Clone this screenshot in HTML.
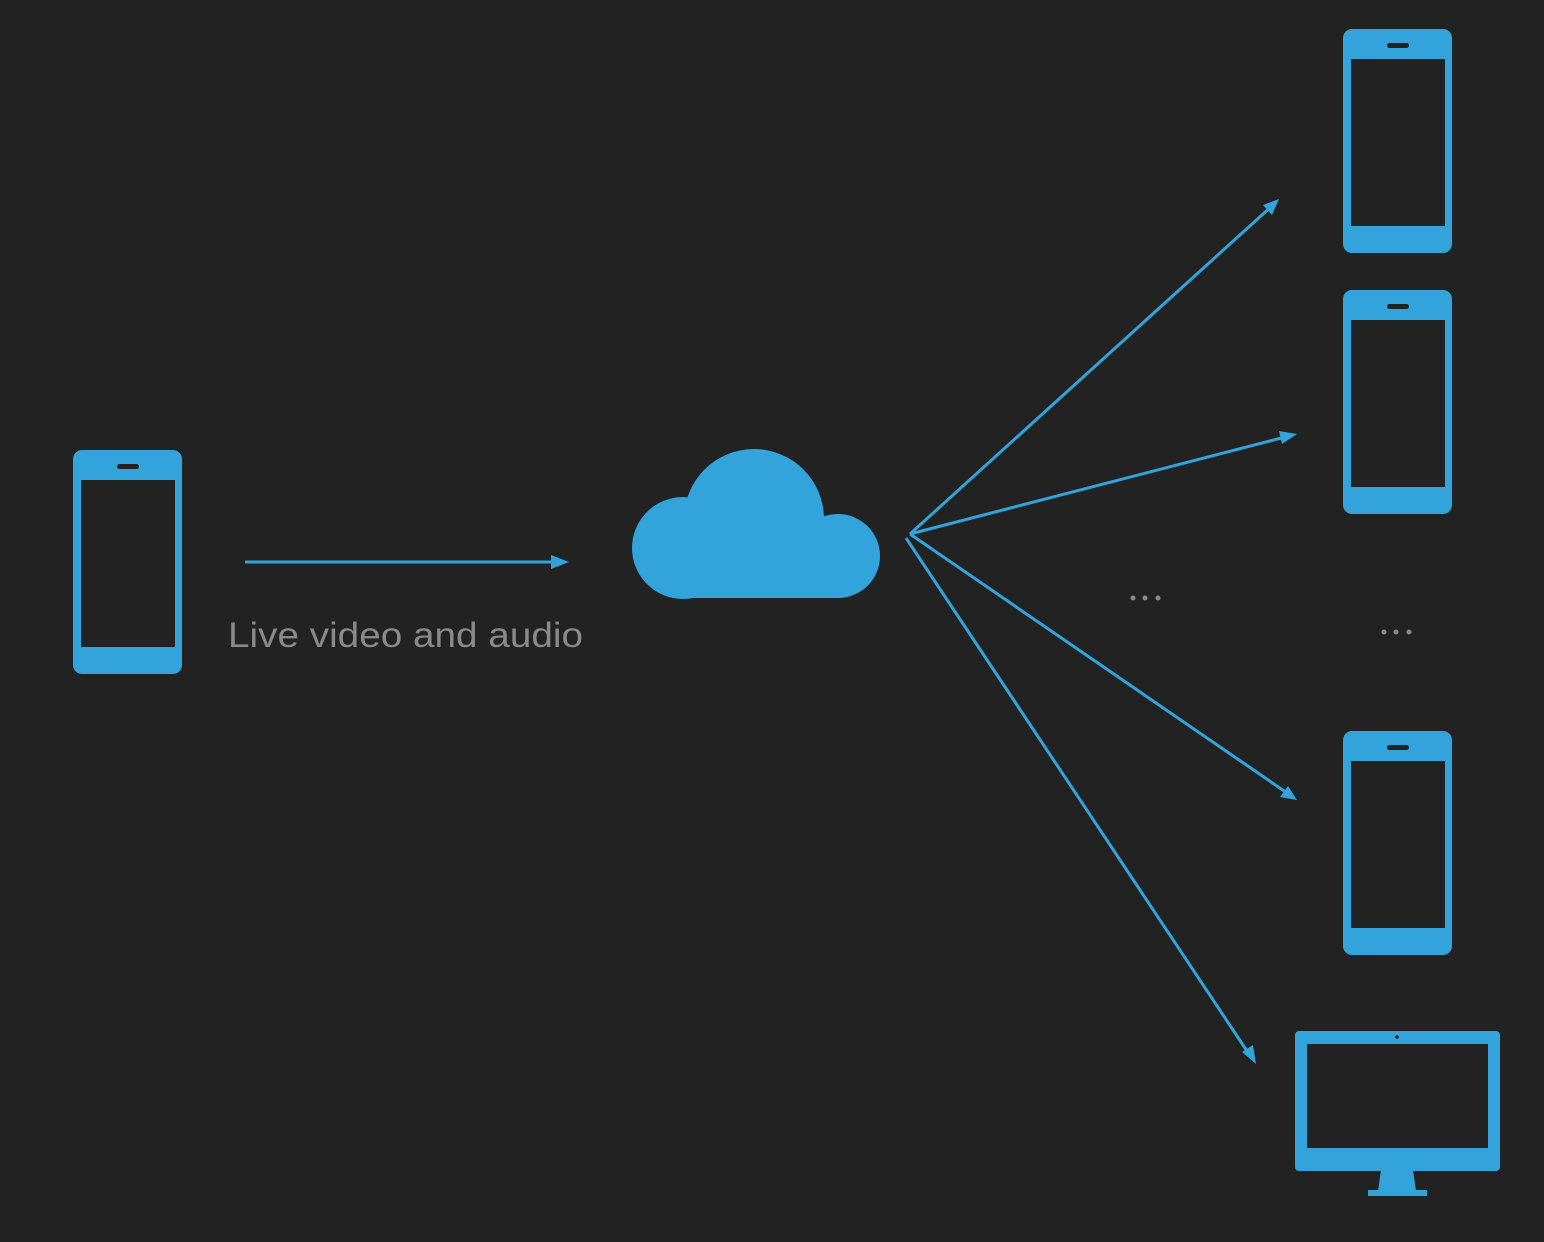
<!DOCTYPE html>
<html><head><meta charset="utf-8"><style>
html,body{margin:0;padding:0;background:#222222;}
svg{display:block}
</style></head><body>
<svg width="1544" height="1242" viewBox="0 0 1544 1242" xmlns="http://www.w3.org/2000/svg">
<defs>
<marker id="ah" markerWidth="10" markerHeight="10" refX="9" refY="5" orient="auto" markerUnits="userSpaceOnUse" viewBox="0 0 10 10">
</marker>
<g id="phone">
<rect x="0" y="0" width="109" height="224" rx="9" fill="#33a4db"/>
<rect x="8" y="30" width="94" height="167" fill="#222"/>
<rect x="44" y="14" width="22" height="5" rx="2.5" fill="#222"/>
</g>
</defs>
<rect width="1544" height="1242" fill="#222"/>
<use href="#phone" x="73" y="450"/>
<use href="#phone" x="1343" y="29"/>
<use href="#phone" x="1343" y="290"/>
<use href="#phone" x="1343" y="731"/>
<!-- monitor -->
<rect x="1295" y="1031" width="205" height="140" rx="4" fill="#33a4db"/>
<rect x="1307" y="1044" width="181" height="104" fill="#222"/>
<circle cx="1397" cy="1037" r="1.8" fill="#222"/>
<polygon points="1381,1170 1413,1170 1416,1191 1378,1191" fill="#33a4db"/>
<rect x="1368" y="1190" width="59" height="6" fill="#33a4db"/>
<!-- cloud -->
<g fill="#33a4db">
<circle cx="754" cy="519" r="70"/>
<circle cx="683" cy="548" r="51"/>
<circle cx="838" cy="556" r="42"/>
<rect x="683" y="540" width="155" height="58"/>
</g>
<!-- arrows -->
<g stroke="#33a4db" stroke-width="3" fill="none">
<line x1="245" y1="562" x2="562" y2="562"/>
<line x1="910" y1="534" x2="1273" y2="205"/>
<line x1="910" y1="534" x2="1289" y2="436"/>
<line x1="910" y1="534" x2="1290" y2="795"/>
<line x1="906" y1="538" x2="1251" y2="1057"/>
</g>
<g fill="#33a4db">
<polygon points="569,562 551,555 551,569"/>
<polygon points="1279,199 1272,215 1263,205"/>
<polygon points="1297,434 1282,444 1279,431"/>
<polygon points="1297,800 1280,797 1288,786"/>
<polygon points="1256,1064 1242,1052 1253,1045"/>
</g>
<g fill="#8a8a8a">
<circle cx="1133" cy="598" r="2.5"/><circle cx="1145" cy="598" r="2.5"/><circle cx="1158" cy="598" r="2.5"/>
<circle cx="1384" cy="632" r="2.5"/><circle cx="1396" cy="632" r="2.5"/><circle cx="1409" cy="632" r="2.5"/>
</g>
<text x="228" y="647" font-family="Liberation Sans, sans-serif" font-size="35" fill="#8a8a8a" textLength="355" lengthAdjust="spacingAndGlyphs">Live video and audio</text>
</svg>
</body></html>
